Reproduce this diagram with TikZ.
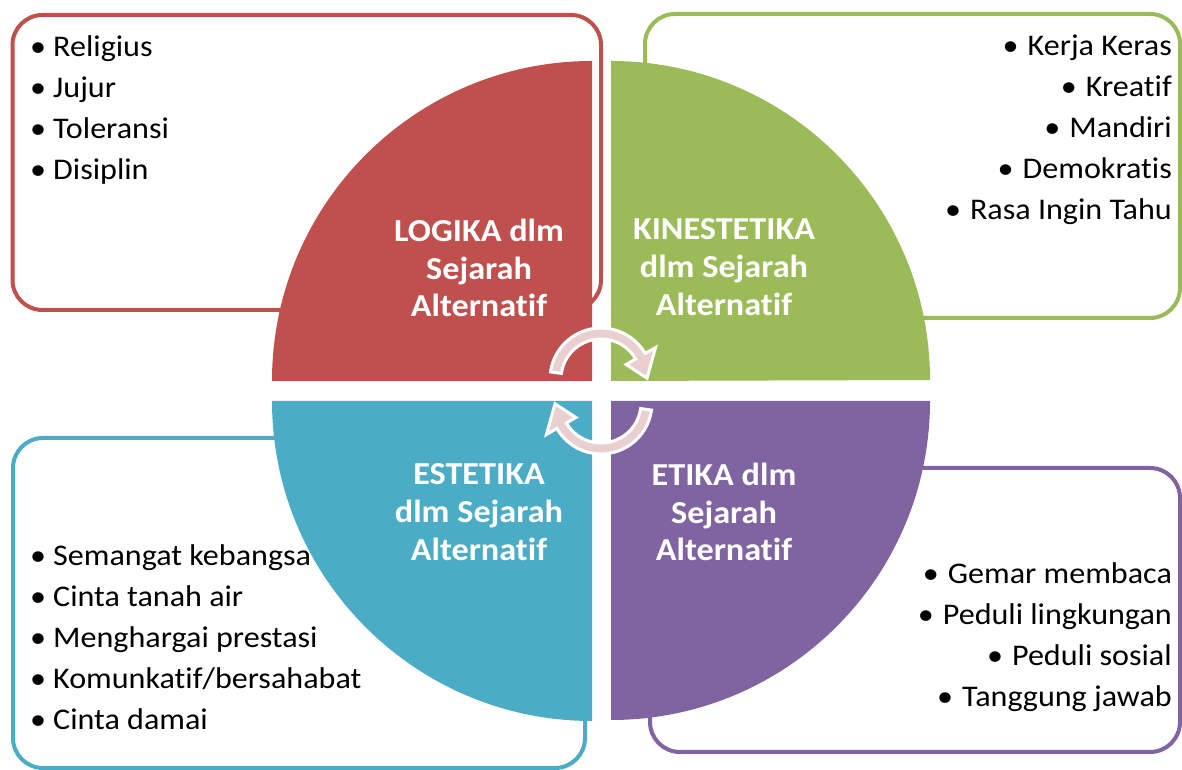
\documentclass[tikz,border=0pt]{standalone}
\usepackage{fontspec}
\setmainfont{Carlito}[Ligatures=CommonOff, FakeStretch=1.07]
\usetikzlibrary{calc}
\definecolor{cRed}{HTML}{C0504D}
\definecolor{cGreen}{HTML}{9BBB59}
\definecolor{cBlue}{HTML}{4BACC6}
\definecolor{cPurple}{HTML}{8064A2}
\definecolor{arrowpink}{RGB}{234,207,209}
\begin{document}
\begin{tikzpicture}[x=1pt,y=1pt,
  framebox/.style={draw=#1, line width=4pt, rounded corners=30pt, fill=white},
  quad/.style={fill=#1, draw=none},
  item/.style={font=\fontsize{30}{41}\selectfont, inner sep=0pt, text=black},
  lbl/.style={font=\fontsize{32}{37.8}\selectfont\bfseries, text=white, align=center, inner sep=0pt},
  cyc/.style={fill=arrowpink, draw=white, line width=3pt, line join=miter}
]
\fill[white] (0,0) rectangle (1182,770);
\useasboundingbox (0,0) rectangle (1182,770);

% frames
\draw[framebox=cRed] (12.5,460) rectangle (601,755);
\draw[framebox=cGreen] (645,452) rectangle (1180,756);
\draw[framebox=cBlue] (13,2) rectangle (585,332);
\draw[framebox=cPurple] (650,18) rectangle (1180,302);

% lists
\foreach \t [count=\i] in {Religius,Jujur,Toleransi,Disiplin}
  \node[item, anchor=base west] (r\i) at (30,{713-41*(\i-1)}) {\makebox[23pt][l]{•}\t};
\foreach \t [count=\i] in {Kerja Keras,Kreatif,Mandiri,Demokratis,Rasa Ingin Tahu}
  \node[item, anchor=base east] (g\i) at (1172,{714-41*(\i-1)}) {•\hspace{0.3em}\t};
\foreach \t [count=\i] in {Semangat kebangsa,Cinta tanah air,Menghargai prestasi,Komunkatif/bersahabat,Cinta damai}
  \node[item, anchor=base west] (b\i) at (30,{204-41*(\i-1)}) {\makebox[23pt][l]{•}\t};
\foreach \t [count=\i] in {Gemar membaca,Peduli lingkungan,Peduli sosial,Tanggung jawab}
  \node[item, anchor=base east] (p\i) at (1172,{186-41*(\i-1)}) {•\hspace{0.3em}\t};

% quadrants
\fill[quad=cRed] (592,389) -- (272,389) arc[start angle=180, end angle=90, radius=320] -- cycle;
\fill[quad=cGreen] (611,389) -- (611,709) arc[start angle=90, end angle=0, radius=319] -- cycle;
\fill[quad=cBlue] (592,369) -- (272,369) arc[start angle=180, end angle=270, radius=320] -- cycle;
\fill[quad=cPurple] (611,369) -- (930,369) arc[start angle=0, end angle=-90, radius=319] -- cycle;

% labels
\node[lbl] (lLog) at (479,502) {LOGIKA dlm\\Sejarah\\Alternatif};
\node[lbl] (lKin) at (724,503) {KINESTETIKA\\dlm Sejarah\\Alternatif};
\node[lbl] (lEst) at (479,258) {ESTETIKA\\dlm Sejarah\\Alternatif};
\node[lbl] (lEti) at (724,258) {ETIKA dlm\\Sejarah\\Alternatif};

% cycle arrows
\coordinate (Ct) at (601,391);
\coordinate (Cb) at (601,367);
\path[cyc] ($(Ct)+(172:51)$) arc[start angle=172, end angle=30, radius=51]
  -- ($(Ct)+(30:63)$) -- ($(Ct)+(1:46)$) -- ($(Ct)+(30:29)$) -- ($(Ct)+(30:40)$)
  arc[start angle=30, end angle=172, radius=40] -- cycle;
\path[cyc] ($(Cb)+(-8:51)$) arc[start angle=-8, end angle=-150, radius=51]
  -- ($(Cb)+(-150:63)$) -- ($(Cb)+(-179:46)$) -- ($(Cb)+(-150:29)$) -- ($(Cb)+(-150:40)$)
  arc[start angle=-150, end angle=-8, radius=40] -- cycle;
\end{tikzpicture}
\end{document}
